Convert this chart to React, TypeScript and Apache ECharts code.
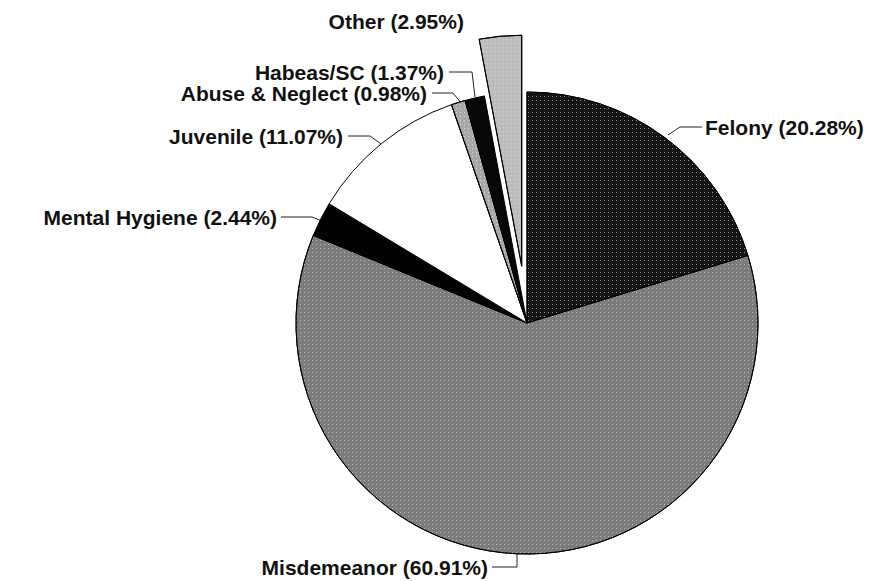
import React, { useEffect, useRef } from 'react';
import * as echarts from 'echarts';

const categories = ['Felony', 'Misdemeanor', 'Mental Hygiene', 'Juvenile', 'Abuse & Neglect', 'Habeas/SC', 'Other'];
const percents = [20.28, 60.91, 2.44, 11.07, 0.98, 1.37, 2.95];
const sliceColors = ['#141414', '#7c7c7c', '#030303', '#ffffff', '#a8a8a8', '#080808', '#bcbcbc'];
const speckleColors = ['rgba(255,255,255,0.55)', 'rgba(255,255,255,0.45)', null, null, 'rgba(255,255,255,0.5)', null, 'rgba(255,255,255,0.5)'];
const explodedCategory = 'Other';

// label placement (layout only): text anchor and leader-line points
const labelPlacement: Record<string, { x: number; y: number; align: string; line: number[][] }> = {
  'Felony': { x: 705, y: 127, align: 'left', line: [[668, 135], [680, 127], [702, 127]] },
  'Misdemeanor': { x: 488, y: 567, align: 'right', line: [[517, 553], [517, 567], [492, 567]] },
  'Mental Hygiene': { x: 277, y: 217, align: 'right', line: [[322, 221], [312, 217], [281, 217]] },
  'Juvenile': { x: 343, y: 136, align: 'right', line: [[384, 146], [370, 136], [348, 136]] },
  'Abuse & Neglect': { x: 427, y: 93, align: 'right', line: [[462, 104], [453, 93], [432, 93]] },
  'Habeas/SC': { x: 444, y: 72, align: 'right', line: [[475, 97], [472, 72], [449, 72]] },
  'Other': { x: 473, y: 21, align: 'right', line: [[500, 37], [498, 22], [478, 22]] },
};

export default function App() {
  const ref = useRef<HTMLDivElement>(null);
  useEffect(() => {
    if (!ref.current) return;
    const chart = echarts.init(ref.current, undefined, { renderer: 'svg' });
    const data = categories.map((name, i) => {
      const st: any = { color: sliceColors[i], borderColor: '#000', borderWidth: 1 };
      if (speckleColors[i]) {
        st.decal = {
          symbol: 'rect',
          symbolSize: 1,
          color: speckleColors[i],
          dashArrayX: [1, 3],
          dashArrayY: [1, 3],
          rotation: 0,
        };
      }
      return {
        name,
        value: percents[i],
        selected: name === explodedCategory,
        itemStyle: st,
        select: { itemStyle: st },
      };
    });
    chart.setOption({
      animation: false,
      backgroundColor: '#ffffff',
      series: [
        {
          type: 'pie',
          center: [527, 323],
          radius: [0, 231],
          startAngle: 90,
          clockwise: true,
          selectedMode: 'single',
          selectedOffset: 57,
          avoidLabelOverlap: false,
          emphasis: { disabled: true },
          data,
          label: {
            show: true,
            position: 'outside',
            formatter: (p: any) => `${p.name} (${Number(p.value).toFixed(2)}%)`,
            fontFamily: '"Liberation Sans", Arial, sans-serif',
            fontWeight: 'bold',
            fontSize: 21,
            color: '#111',
          },
          labelLine: {
            show: true,
            smooth: false,
            lineStyle: { color: '#222', width: 1 },
          },
          labelLayout: (params: any) => {
            const name = categories[params.dataIndex];
            const pl = labelPlacement[name];
            if (!pl) return {};
            return {
              x: pl.x,
              y: pl.y,
              align: pl.align,
              verticalAlign: 'middle',
              labelLinePoints: pl.line,
            };
          },
        },
      ],
    });
    return () => chart.dispose();
  }, []);
  return (
    <div
      ref={ref}
      style={{ position: 'fixed', left: 0, top: 0, width: 891, height: 581, background: '#fff' }}
    />
  );
}
